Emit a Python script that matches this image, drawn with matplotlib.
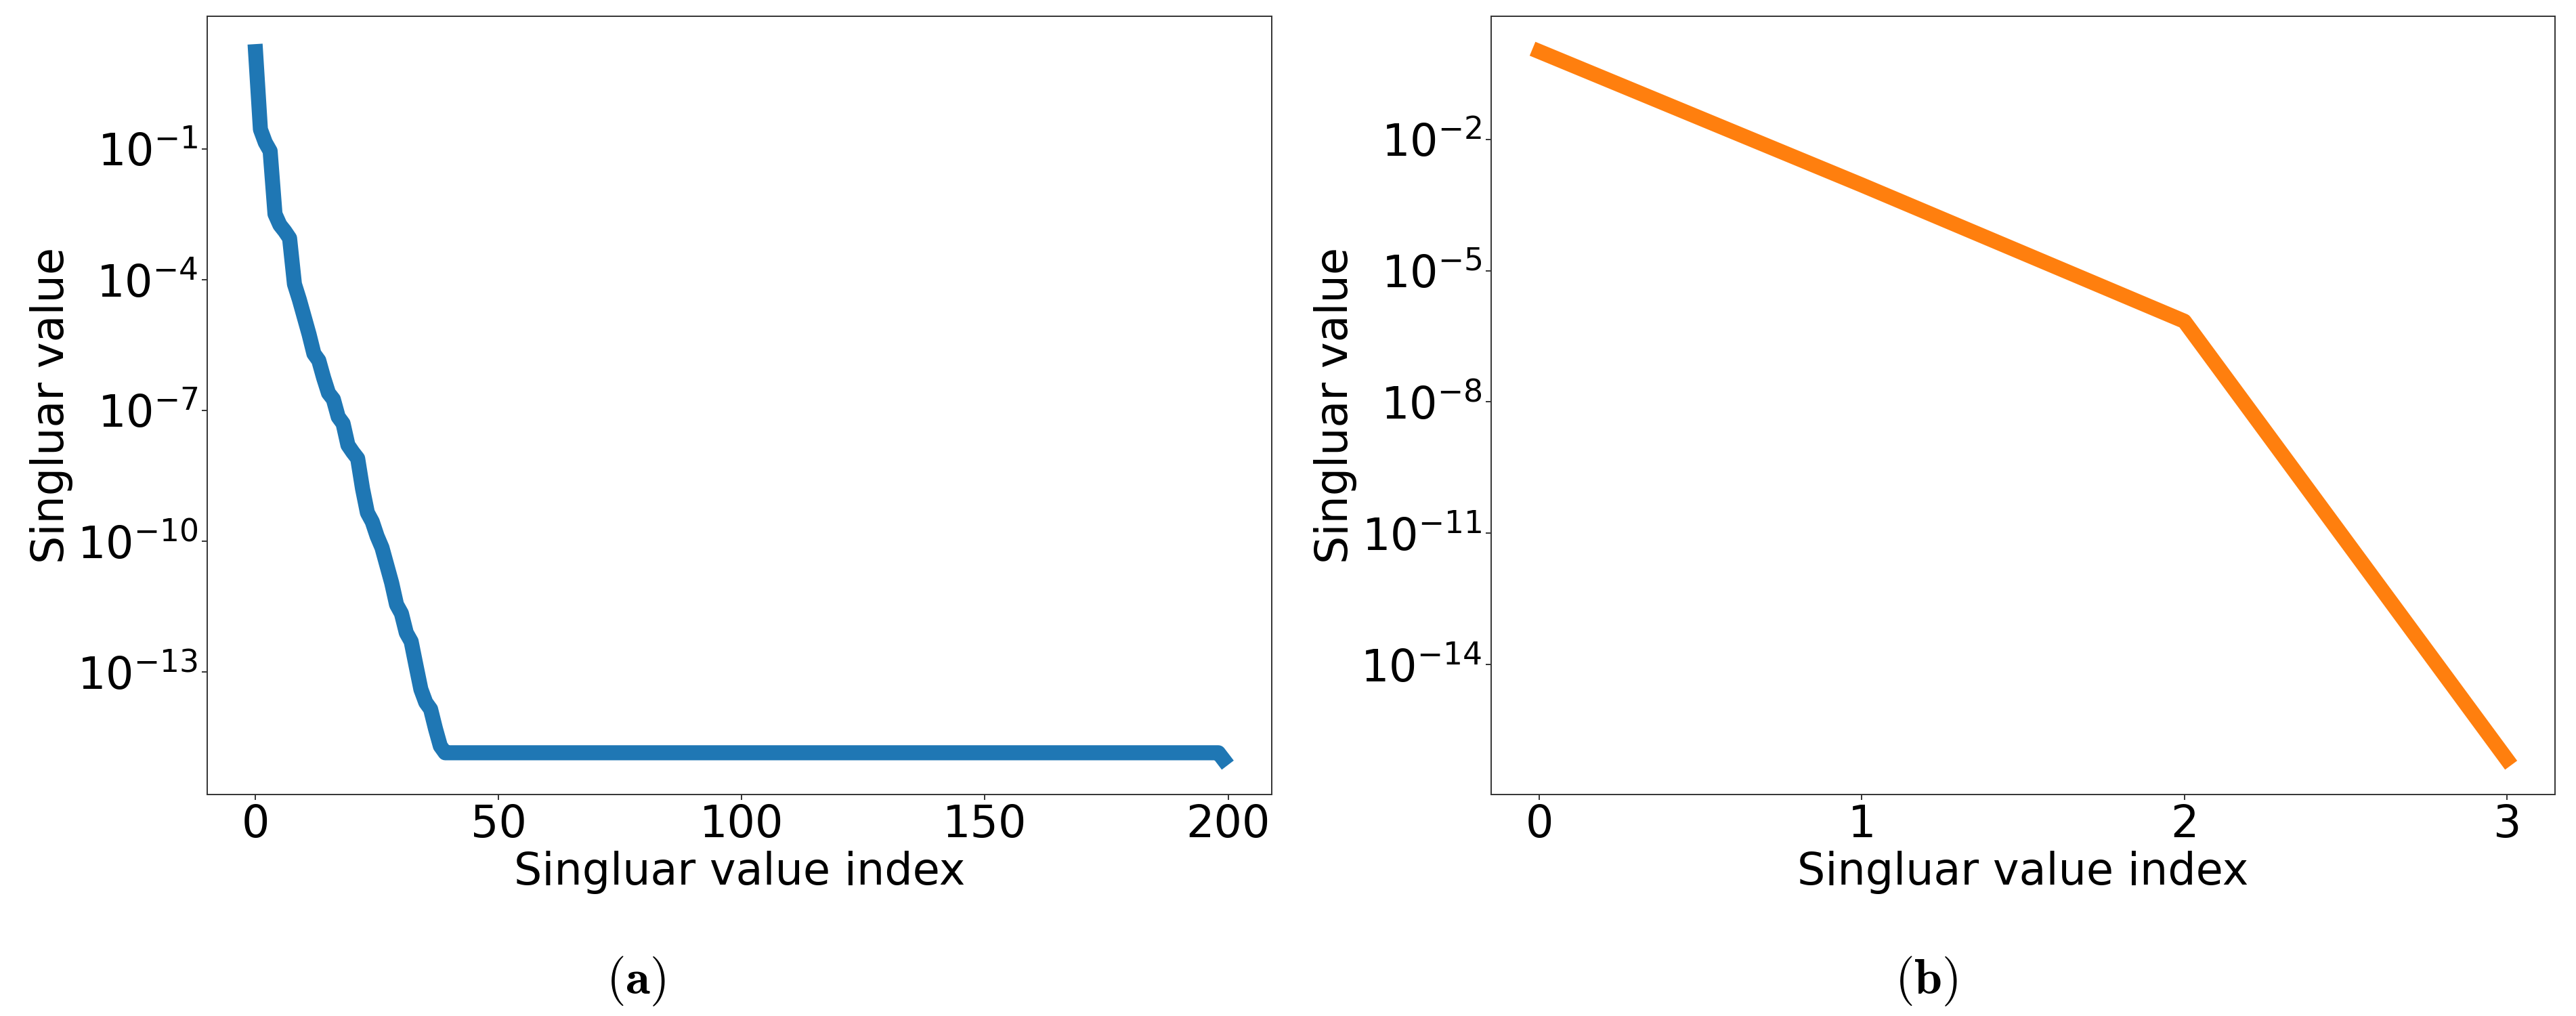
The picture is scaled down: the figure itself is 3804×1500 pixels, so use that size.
import matplotlib
matplotlib.use("Agg")
import numpy as np
import matplotlib.pyplot as plt
from matplotlib.ticker import NullLocator

# singular values: steep staircase, then a flat noise floor
sv_full_head = [1.7e1, 2.8e-1, 1.4e-1, 8.9e-2, 3.2e-3, 1.8e-3, 1.3e-3, 8.9e-4,
                7.9e-5, 3.5e-5, 1.4e-5, 5.6e-6, 2.0e-6, 1.4e-6, 5.6e-7, 2.5e-7,
                1.8e-7, 7.1e-8, 5.0e-8, 1.6e-8, 1.1e-8, 7.9e-9, 1.6e-9, 4.5e-10,
                2.8e-10, 1.3e-10, 7.1e-11, 2.8e-11, 1.1e-11, 3.5e-12, 2.2e-12,
                7.9e-13, 5.0e-13, 1.4e-13, 4.0e-14, 2.0e-14, 1.4e-14, 5.0e-15,
                2.0e-15]
sv_full_floor = [1.4e-15] * 160
sv_full_last = [1.0e-15]
sv_full = sv_full_head + sv_full_floor + sv_full_last

# singular values of panel (b)
sv_small = [1.0, 9e-4, 7e-7, 7e-17]

ticks_a = [1e-1, 1e-4, 1e-7, 1e-10, 1e-13]
ticks_b = [1e-2, 1e-5, 1e-8, 1e-11, 1e-14]

FS = 47
LW = 16

fig = plt.figure(figsize=(38.05, 15), dpi=100)
ax1 = fig.add_axes([0.0804, 0.218, 0.4131, 0.766])
ax2 = fig.add_axes([0.5787, 0.218, 0.4129, 0.766])

ax1.plot(np.arange(len(sv_full)), sv_full, color="#1f77b4", linewidth=LW)
ax2.plot(np.arange(len(sv_small)), sv_small, color="#ff7f0e", linewidth=LW)

for ax, yt in ((ax1, ticks_a), (ax2, ticks_b)):
    ax.set_yscale("log")
    ax.set_yticks(yt)
    ax.yaxis.set_minor_locator(NullLocator())
    ax.set_xlabel("Singluar value index", fontsize=FS)
    ax.set_ylabel("Singluar value", fontsize=FS)
    ax.tick_params(labelsize=FS, length=6, width=1.4, color="#333333")
    for s in ax.spines.values():
        s.set_linewidth(1.4)
        s.set_color("#333333")

ax1.set_xticks([0, 50, 100, 150, 200])
ax2.set_xticks([0, 1, 2, 3])

# subfigure captions
fig.text(0.2468, 0.034, r"$(\mathbf{a})$", fontsize=53, ha="center",
         va="center", math_fontfamily="cm")
fig.text(0.7475, 0.034, r"$(\mathbf{b})$", fontsize=53, ha="center",
         va="center", math_fontfamily="cm")

fig.savefig("out.png", dpi=100)
